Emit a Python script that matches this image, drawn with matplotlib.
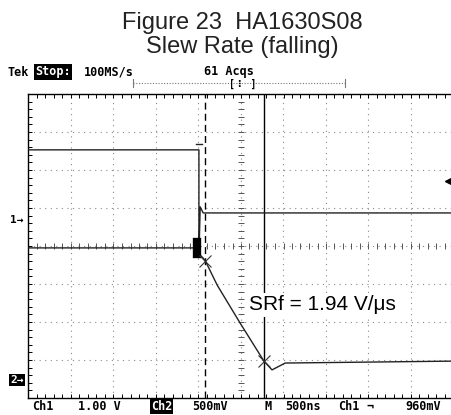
import numpy as np
import matplotlib.pyplot as plt

# scope screen in divisions: x 0..10 (500ns/div), y 0..8
ch1_x = [0.0, 3.96, 4.01, 4.01, 4.04, 4.11, 9.96]
ch1_y = [6.53, 6.53, 6.53, 3.71, 5.03, 4.87, 4.87]

ch2_x = [0.0, 3.94, 4.05, 4.11, 4.16, 4.44, 4.98, 5.54, 5.73, 6.04, 9.96]
ch2_y = [3.95, 3.95, 3.75, 3.68, 3.61, 2.97, 1.97, 0.97, 0.74, 0.92, 0.97]

cursor_x = [4.15, 5.54]
cursor_y = [3.61, 0.97]
ch1_gnd = 4.76
ch2_gnd = 0.55
trig_level = 5.71
slew_label = "SRf = 1.94 V/\u03bcs"

W, H = 452, 415
fig = plt.figure(figsize=(W / 100, H / 100), dpi=100)
fig.patch.set_facecolor('white')
ax = fig.add_axes([28.5 / W, 17 / H, 425 / W, 304 / H])
ax.set_xlim(0, 10)
ax.set_ylim(0, 8)

def fx(px):
    return px / W

def fy(py):
    return 1 - py / H

# graticule
for gx in range(1, 10):
    ax.axvline(gx, color='#8a8a8a', lw=0.8, ls=(0, (1, 4)), zorder=1)
for gy in range(1, 8):
    ax.axhline(gy, color='#8a8a8a', lw=0.8, ls=(0, (1, 4)), zorder=1)
minor = np.arange(0.2, 10, 0.2)
ax.plot(minor, np.full(len(minor), 4), ls='none', marker='|', ms=4,
        color='#555555', mew=0.7, zorder=1)
minor_y = np.arange(0.2, 8, 0.2)
ax.plot(np.full(len(minor_y), 5), minor_y, ls='none', marker='_', ms=4,
        color='#555555', mew=0.7, zorder=1)

ax.set_xticks([])
ax.set_yticks([])
ax.set_xticks(minor, minor=True)
ax.set_yticks(minor_y, minor=True)
ax.tick_params(which='minor', direction='in', length=3, width=0.7,
               top=True, bottom=True, left=True, right=False,
               labelbottom=False, labelleft=False)
for side in ['left', 'top', 'bottom']:
    ax.spines[side].set_linewidth(1.0)
ax.spines['right'].set_visible(False)

# cursors
ax.axvline(cursor_x[0], color='black', lw=1.0, ls=(0, (5, 3)), zorder=2)
ax.axvline(cursor_x[1], color='black', lw=1.0, zorder=2)

# traces
ax.plot(ch1_x, ch1_y, color='#222222', lw=1.0, zorder=3)
ax.plot(ch2_x, ch2_y, color='#222222', lw=1.0, zorder=3)
ax.plot([3.93, 4.09], [6.69, 6.69], color='#222222', lw=1.0, zorder=3)
ax.plot([3.97, 3.97], [3.8, 4.1], color='black', lw=6, zorder=3)
ax.plot(cursor_x, cursor_y, ls='none', marker='x', ms=8, color='#333333',
        mew=0.8, zorder=4)

ax.text(5.2, 2.45, slew_label, fontsize=15, family='Liberation Sans',
        va='center', ha='left', zorder=5,
        bbox=dict(facecolor='white', edgecolor='none', pad=2))

# trigger level arrow on right edge
ax.plot([9.9], [trig_level], marker='<', ms=6, color='black', clip_on=False)

# channel ground markers
fig.text(fx(10), fy(217 + 3), '1\u2192', fontsize=8, weight='bold',
         family='DejaVu Sans Mono', va='center')
fig.text(fx(10), fy(377 + 3), '2\u2192', fontsize=8, weight='bold', color='white',
         family='DejaVu Sans Mono', va='center',
         bbox=dict(facecolor='black', edgecolor='none', pad=0.8))

# title
fig.text(0.535, fy(23), 'Figure 23  HA1630S08', fontsize=17,
         family='Liberation Sans', ha='center', va='center', color='#222222')
fig.text(0.535, fy(47), 'Slew Rate (falling)', fontsize=17,
         family='Liberation Sans', ha='center', va='center', color='#222222')

# scope header
mono = dict(family='DejaVu Sans Mono', weight='bold', fontsize=8.5, va='center')
fig.text(fx(8), fy(72), 'Tek', **mono)
fig.text(fx(35), fy(72), 'Stop:', color='white',
         bbox=dict(facecolor='black', edgecolor='none', pad=0.8), **mono)
fig.text(fx(84), fy(72), '100MS/s', **mono)
fig.text(fx(204), fy(72), '61 Acqs', **mono)
fig.add_artist(plt.Line2D([fx(133), fx(345)], [fy(83), fy(83)],
                          color='#777777', lw=0.8, ls=(0, (1, 1.5))))
fig.add_artist(plt.Line2D([fx(133), fx(133)], [fy(79), fy(87)],
                          color='#777777', lw=0.8))
fig.add_artist(plt.Line2D([fx(345), fx(345)], [fy(79), fy(87)],
                          color='#777777', lw=0.8))
fig.text(fx(243), fy(84), '[\u22ee ]', fontsize=7, weight='bold',
         family=['DejaVu Sans Mono', 'DejaVu Sans'], ha='center', va='center')

# scope footer
foot_y = fy(406)
fig.text(fx(32), foot_y, 'Ch1', **mono)
fig.text(fx(78), foot_y, '1.00 V', **mono)
fig.text(fx(151), foot_y, 'Ch2', color='white',
         bbox=dict(facecolor='black', edgecolor='none', pad=0.8), **mono)
fig.text(fx(192), foot_y, '500mV', **mono)
fig.text(fx(265), foot_y, 'M', **mono)
fig.text(fx(285), foot_y, '500ns', **mono)
fig.text(fx(338), foot_y, 'Ch1', **mono)
fig.text(fx(366), foot_y, '\u00ac', **mono)
fig.text(fx(405), foot_y, '960mV', **mono)

fig.savefig('out.png', dpi=100)
